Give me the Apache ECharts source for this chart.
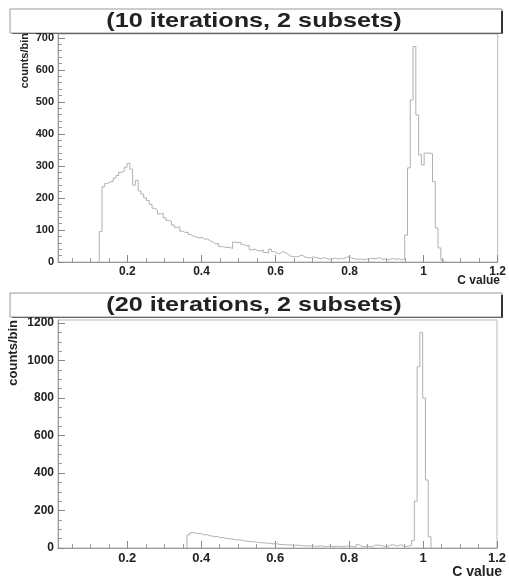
<!DOCTYPE html>
<html>
<head>
<meta charset="utf-8">
<script src="https://cdn.jsdelivr.net/npm/echarts@6/dist/echarts.min.js"></script>
<style>
  body { margin: 0; background: #fff; }
  #chart { width: 509px; height: 580px; }
</style>
</head>
<body>
<div id="chart"></div>
<script>
// histogram bins (lower edge of first bin + width), counts
var binWidth = 0.0075;

var topStart = 0.124;
var topCounts = [
	95, 235, 245, 250, 252, 262, 270, 280, 284, 296,
	308, 290, 240, 255, 222, 212, 200, 192, 180, 168,
	162, 150, 152, 138, 130, 126, 115, 108, 110, 96,
	92, 93, 86, 81, 78, 75, 77, 71, 72, 66,
	62, 56, 58, 48, 47, 45, 46, 42, 62, 60,
	62, 55, 50, 52, 38, 40, 36, 34, 38, 30,
	28, 40, 33, 28, 26, 32, 30, 24, 18, 17,
	16, 18, 22, 16, 14, 12, 16, 14, 12, 10,
	14, 11, 8, 10, 12, 9, 12, 10, 14, 17,
	12, 10, 8, 10, 7, 9, 8, 12, 10, 11,
	14, 8, 10, 7, 9, 11, 8, 10, 6, 9,
	84, 294, 506, 673, 459, 335, 303, 340, 340, 338,
	251, 106, 44, 6
];

var bottomStart = 0.3615;
var bottomCounts = [
	70, 82, 80, 76, 78, 70, 72, 66, 64, 60,
	62, 55, 56, 52, 50, 48, 46, 42, 44, 40,
	38, 36, 34, 35, 30, 30, 28, 26, 27, 24,
	22, 24, 20, 18, 20, 16, 17, 15, 14, 16,
	12, 13, 11, 12, 10, 11, 9, 12, 10, 8,
	10, 9, 7, 10, 8, 9, 7, 12, 10, 8,
	6, 18, 9, 7, 10, 8, 6, 16, 15, 14,
	10, 8, 12, 18, 14, 10, 18, 12, 8, 10,
	14, 40, 250, 967, 1150, 800, 363, 60
];

var xMajor = [0.2, 0.4, 0.6, 0.8, 1, 1.2];
var xMinor = [0.05, 0.1, 0.15, 0.25, 0.3, 0.35, 0.45, 0.5, 0.55, 0.65, 0.7, 0.75,
	0.85, 0.9, 0.95, 1.05, 1.1, 1.15];
var topYMajor = [0, 100, 200, 300, 400, 500, 600, 700];
var topYMinor = [];
for (var v = 20; v < 712; v += 20) { if (v % 100) topYMinor.push(v); }
var bottomYMajor = [0, 200, 400, 600, 800, 1000, 1200];
var bottomYMinor = [];
for (var w = 50; w < 1216; w += 50) { if (w % 200) bottomYMinor.push(w); }

var titles = ['(10 iterations, 2 subsets)', '(20 iterations, 2 subsets)'];

var FONT = '"Liberation Sans", Arial, sans-serif';

function histPoints(start, counts) {
	var pts = [[start, 0]];
	for (var i = 0; i < counts.length; i++) {
		pts.push([start + i * binWidth, counts[i]]);
	}
	pts.push([start + counts.length * binWidth, 0]);
	return pts;
}

function plain(val) {
	return String(val);
}

function xAxes(grid, fontSize) {
	return [{
		type: 'value', gridIndex: grid, position: 'bottom', min: 0.0125, max: 1.2,
		axisLine: { lineStyle: { color: '#999', width: 1 } },
		axisTick: { show: true, inside: true, length: 7, lineStyle: { color: '#888' }, customValues: xMajor },
		axisLabel: { customValues: xMajor, formatter: plain, margin: 4, color: '#222', fontWeight: 'bold',
			fontSize: fontSize, fontFamily: FONT },
		splitLine: { show: false }
	}, {
		type: 'value', gridIndex: grid, position: 'bottom', min: 0.0125, max: 1.2,
		axisLine: { show: false },
		axisTick: { show: true, inside: true, length: 4, lineStyle: { color: '#999' }, customValues: xMinor },
		axisLabel: { show: false },
		splitLine: { show: false }
	}];
}

function yAxes(grid, max, major, minor, fontSize) {
	return [{
		type: 'value', gridIndex: grid, position: 'left', min: 0, max: max,
		axisLine: { show: true, lineStyle: { color: '#999', width: 1 } },
		axisTick: { show: true, inside: true, length: 7, lineStyle: { color: '#888' }, customValues: major },
		axisLabel: { customValues: major, formatter: plain, margin: 4, color: '#222', fontWeight: 'bold',
			fontSize: fontSize, fontFamily: FONT },
		splitLine: { show: false }
	}, {
		type: 'value', gridIndex: grid, position: 'left', min: 0, max: max,
		axisLine: { show: false },
		axisTick: { show: true, inside: true, length: 4, lineStyle: { color: '#999' }, customValues: minor },
		axisLabel: { show: false },
		splitLine: { show: false }
	}];
}

function titleBox(y, text) {
	return [{
		type: 'rect', shape: { x: 10, y: y, width: 492, height: 24 },
		style: { fill: '#fff', stroke: '#999', lineWidth: 1 }
	}, {
		type: 'line', shape: { x1: 502, y1: y + 2, x2: 502, y2: y + 25 },
		style: { stroke: '#333', lineWidth: 2 }
	}, {
		type: 'line', shape: { x1: 12, y1: y + 24.5, x2: 503, y2: y + 24.5 },
		style: { stroke: '#666', lineWidth: 1 }
	}, {
		type: 'text', x: 254, y: y + 12, scaleX: 1.2,
		style: { text: text, align: 'center', verticalAlign: 'middle', fill: '#222',
			font: 'bold 21px ' + FONT }
	}];
}

var chart = echarts.init(document.getElementById('chart'));

var option = {
	backgroundColor: '#fff',
	animation: false,
	grid: [
		{ left: 58, top: 34, width: 443, height: 228, show: true, borderColor: '#bbb', borderWidth: 1 },
		{ left: 58, top: 320, width: 443, height: 228, show: true, borderColor: '#bbb', borderWidth: 1 }
	],
	xAxis: xAxes(0, 12).concat(xAxes(1, 13)),
	yAxis: yAxes(0, 712, topYMajor, topYMinor, 11).concat(yAxes(1, 1216, bottomYMajor, bottomYMinor, 12)),
	series: [{
		type: 'line', xAxisIndex: 0, yAxisIndex: 0, step: 'end', showSymbol: false,
		lineStyle: { color: '#b0b0b0', width: 1 },
		data: histPoints(topStart, topCounts)
	}, {
		type: 'line', xAxisIndex: 2, yAxisIndex: 2, step: 'end', showSymbol: false,
		lineStyle: { color: '#b0b0b0', width: 1 },
		data: histPoints(bottomStart, bottomCounts)
	}],
	graphic: titleBox(9, titles[0]).concat(titleBox(293, titles[1])).concat([
		{ type: 'text', x: 25, y: 33, rotation: Math.PI / 2,
			style: { text: 'counts/bin', align: 'right', verticalAlign: 'middle', fill: '#222',
				font: 'bold 11px ' + FONT } },
		{ type: 'text', x: 13, y: 320, rotation: Math.PI / 2,
			style: { text: 'counts/bin', align: 'right', verticalAlign: 'middle', fill: '#222',
				font: 'bold 13px ' + FONT } },
		{ type: 'text', x: 500, y: 281,
			style: { text: 'C value', align: 'right', verticalAlign: 'middle', fill: '#222',
				font: 'bold 12px ' + FONT } },
		{ type: 'text', x: 502, y: 572,
			style: { text: 'C value', align: 'right', verticalAlign: 'middle', fill: '#222',
				font: 'bold 14px ' + FONT } }
	])
};
chart.setOption(option);
</script>
</body>
</html>
